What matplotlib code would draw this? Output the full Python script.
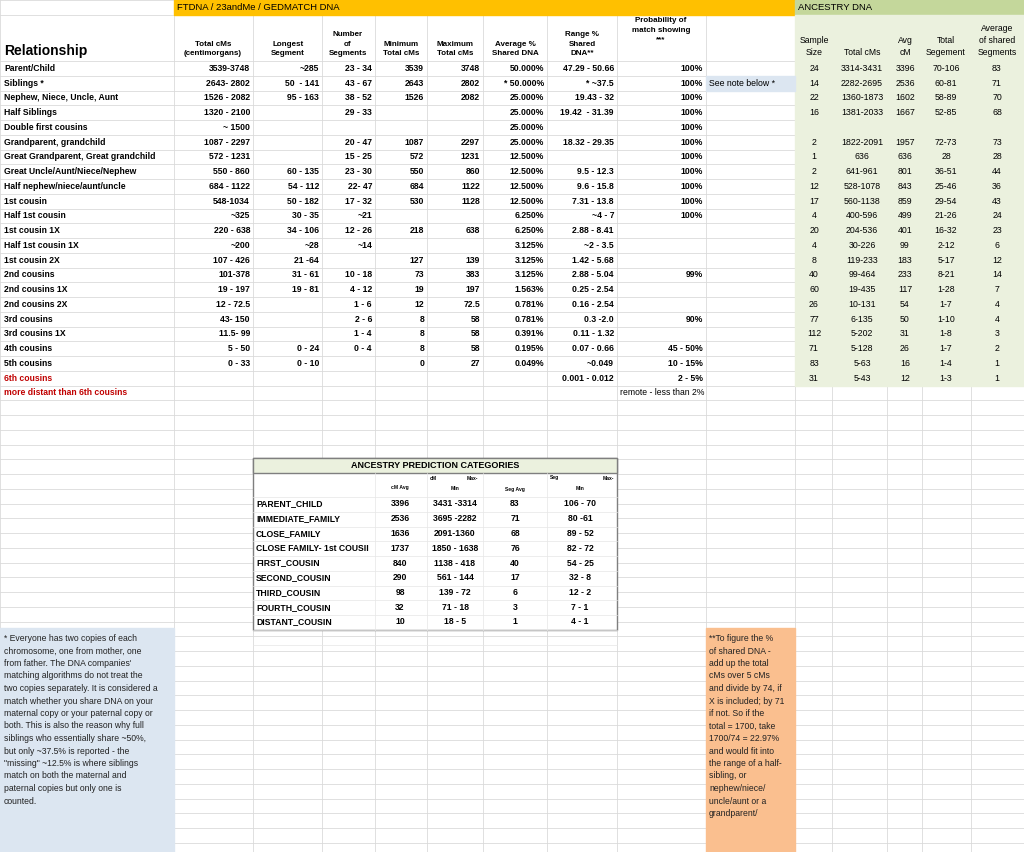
import matplotlib
matplotlib.use("Agg")
import matplotlib.pyplot as plt
from matplotlib.patches import Rectangle

plt.rcParams['font.family'] = ['Liberation Sans', 'DejaVu Sans']

# ---- main table data ----
relationship = ["Parent/Child", "Siblings *", "Nephew, Niece, Uncle, Aunt", "Half Siblings",
                "Double first cousins", "Grandparent, grandchild", "Great Grandparent, Great grandchild",
                "Great Uncle/Aunt/Niece/Nephew", "Half nephew/niece/aunt/uncle", "1st cousin",
                "Half 1st cousin", "1st cousin 1X", "Half 1st cousin 1X", "1st cousin 2X",
                "2nd cousins", "2nd cousins 1X", "2nd cousins 2X", "3rd cousins", "3rd cousins 1X",
                "4th cousins", "5th cousins", "6th cousins", "more distant than 6th cousins"]
total_cms = ["3539-3748", "2643- 2802", "1526 - 2082", "1320 - 2100", "~ 1500", "1087 - 2297",
             "572 - 1231", "550 - 860", "684 - 1122", "548-1034", "~325", "220 - 638", "~200",
             "107 - 426", "101-378", "19 - 197", "12 - 72.5", "43- 150", "11.5- 99", "5 - 50",
             "0 - 33", "", ""]
longest_seg = ["~285", "50  - 141", "95 - 163", "", "", "", "", "60 - 135", "54 - 112", "50 - 182",
               "30 - 35", "34 - 106", "~28", "21 -64", "31 - 61", "19 - 81", "", "", "", "0 - 24",
               "0 - 10", "", ""]
num_segs = ["23 - 34", "43 - 67", "38 - 52", "29 - 33", "", "20 - 47", "15 - 25", "23 - 30", "22- 47",
            "17 - 32", "~21", "12 - 26", "~14", "", "10 - 18", "4 - 12", "1 - 6", "2 - 6", "1 - 4",
            "0 - 4", "", "", ""]
min_cms = ["3539", "2643", "1526", "", "", "1087", "572", "550", "684", "530", "", "218", "", "127",
           "73", "19", "12", "8", "8", "8", "0", "", ""]
max_cms = ["3748", "2802", "2082", "", "", "2297", "1231", "860", "1122", "1128", "", "638", "", "139",
           "383", "197", "72.5", "58", "58", "58", "27", "", ""]
avg_pct = ["50.000%", "* 50.000%", "25.000%", "25.000%", "25.000%", "25.000%", "12.500%", "12.500%",
           "12.500%", "12.500%", "6.250%", "6.250%", "3.125%", "3.125%", "3.125%", "1.563%", "0.781%",
           "0.781%", "0.391%", "0.195%", "0.049%", "", ""]
range_pct = ["47.29 - 50.66", "* ~37.5", "19.43 - 32", "19.42  - 31.39", "", "18.32 - 29.35", "",
             "9.5 - 12.3", "9.6 - 15.8", "7.31 - 13.8", "~4 - 7", "2.88 - 8.41", "~2 - 3.5",
             "1.42 - 5.68", "2.88 - 5.04", "0.25 - 2.54", "0.16 - 2.54", "0.3 -2.0", "0.11 - 1.32",
             "0.07 - 0.66", "~0.049", "0.001 - 0.012", ""]
prob_match = ["100%"] * 11 + ["", "", "", "99%", "", "", "90%", "", "45 - 50%", "10 - 15%", "2 - 5%", ""]

# ---- ancestry DNA data ----
sample_size = ["24", "14", "22", "16", "", "2", "1", "2", "12", "17", "4", "20", "4", "8", "40", "60",
               "26", "77", "112", "71", "83", "31", ""]
anc_total = ["3314-3431", "2282-2695", "1360-1873", "1381-2033", "", "1822-2091", "636", "641-961",
             "528-1078", "560-1138", "400-596", "204-536", "30-226", "119-233", "99-464", "19-435",
             "10-131", "6-135", "5-202", "5-128", "5-63", "5-43", ""]
anc_avg = ["3396", "2536", "1602", "1667", "", "1957", "636", "801", "843", "859", "499", "401", "99",
           "183", "233", "117", "54", "50", "31", "26", "16", "12", ""]
anc_seg = ["70-106", "60-81", "58-89", "52-85", "", "72-73", "28", "36-51", "25-46", "29-54", "21-26",
           "16-32", "2-12", "5-17", "8-21", "1-28", "1-7", "1-10", "1-8", "1-7", "1-4", "1-3", ""]
anc_shared = ["83", "71", "70", "68", "", "73", "28", "44", "36", "43", "24", "23", "6", "12", "14",
              "7", "4", "4", "3", "2", "1", "1", ""]

# ---- prediction categories ----
pred_cat = ["PARENT_CHILD", "IMMEDIATE_FAMILY", "CLOSE_FAMILY", "CLOSE FAMILY- 1st COUSII",
            "FIRST_COUSIN", "SECOND_COUSIN", "THIRD_COUSIN", "FOURTH_COUSIN", "DISTANT_COUSIN"]
pred_cm_avg = ["3396", "2536", "1636", "1737", "840", "290", "98", "32", "10"]
pred_cm_range = ["3431 -3314", "3695 -2282", "2091-1360", "1850 - 1638", "1138 - 418", "561 - 144",
                 "139 - 72", "71 - 18", "18 - 5"]
pred_seg_avg = ["83", "71", "68", "76", "40", "17", "6", "3", "1"]
pred_seg_range = ["106 - 70", "80 -61", "89 - 52", "82 - 72", "54 - 25", "32 - 8", "12 - 2", "7 - 1", "4 - 1"]

note_sib = ("* Everyone has two copies of each\nchromosome, one from mother, one\nfrom father. The DNA companies'\n"
            "matching algorithms do not treat the\ntwo copies separately. It is considered a\n"
            "match whether you share DNA on your\nmaternal copy or your paternal copy or\n"
            "both. This is also the reason why full\nsiblings who essentially share ~50%,\n"
            "but only ~37.5% is reported - the\n\"missing\" ~12.5% is where siblings\n"
            "match on both the maternal and\npaternal copies but only one is\ncounted.")
note_pct = ("**To figure the %\nof shared DNA -\nadd up the total\ncMs over 5 cMs\nand divide by 74, if\n"
            "X is included; by 71\nif not. So if the\ntotal = 1700, take\n1700/74 = 22.97%\n"
            "and would fit into\nthe range of a half-\nsibling, or\nnephew/niece/\nuncle/aunt or a\ngrandparent/")

fig = plt.figure(figsize=(10.24, 8.52), dpi=100)
ax = fig.add_axes([0, 0, 1, 1])
ax.set_xlim(0, 1024)
ax.set_ylim(852, 0)
ax.axis('off')

grid = '#dadada'
col_edges = [0, 174, 253, 322, 375, 427, 483, 547, 617, 706, 795, 832, 887, 922, 971, 1024]
row0, rh = 61, 14.75
row_edges = [0, 15, row0] + [row0 + rh * (i + 1) for i in range(56)]

# background fills
ax.add_patch(Rectangle((174, 0), 621, 15, color='#FFC000', zorder=1))
ax.add_patch(Rectangle((795, 0), 229, 15, color='#C4D79B', zorder=1))
ax.add_patch(Rectangle((795, 15), 229, row0 + rh * 22 - 15, color='#EBF1DE', zorder=1))
ax.add_patch(Rectangle((706, 76), 89, rh, color='#DCE6F1', zorder=1))
ax.add_patch(Rectangle((0, 628), 174, 224, color='#DCE6F1', zorder=1))
ax.add_patch(Rectangle((706, 628), 89, 224, color='#FABF8F', zorder=1))

# sheet grid
for x in col_edges:
    ax.plot([x, x], [0, 852], color=grid, lw=0.6, zorder=0.5)
for y in row_edges:
    if y < 852:
        ax.plot([0, 1024], [y, y], color=grid, lw=0.6, zorder=0.5)

fs = 6.2
ax.text(177, 7.5, "FTDNA / 23andMe / GEDMATCH DNA", fontsize=6.8, va='center', zorder=3)
ax.text(798, 7.5, "ANCESTRY DNA", fontsize=6.8, va='center', zorder=3)
ax.text(4, 51, "Relationship", fontsize=10, fontweight='bold', va='center')

hdrs = [(213, "Total cMs\n(centimorgans)"), (288, "Longest\nSegment"), (348, "Number\nof\nSegments"),
        (401, "Minimum\nTotal cMs"), (455, "Maximum\nTotal cMs"), (515, "Average %\nShared DNA"),
        (582, "Range %\nShared\nDNA**"), (661, "Probability of\nmatch showing\n***")]
for x, t in hdrs:
    ax.text(x, 57 if t.count('\n') < 2 or x != 661 else 43, t, fontsize=5.8, fontweight='bold',
            ha='center', va='bottom', linespacing=1.45)
ahdrs = [(814, "Sample\nSize"), (862, "Total cMs"), (905, "Avg\ncM"), (946, "Total\nSegement"),
         (997, "Average\nof shared\nSegments")]
for x, t in ahdrs:
    ax.text(x, 57, t, fontsize=6.2, ha='center', va='bottom', linespacing=1.45)

right_cols = [(250, total_cms), (319, longest_seg), (372, num_segs), (424, min_cms), (480, max_cms),
              (544, avg_pct), (614, range_pct), (703, prob_match)]
for i, name in enumerate(relationship):
    y = row0 + rh * (i + 0.5)
    ax.text(4, y, name, fontsize=fs, fontweight='bold', va='center',
            color='#C00000' if i >= 21 else 'black')
    for x, vals in right_cols:
        if vals[i]:
            ax.text(x, y, vals[i], fontsize=fs, fontweight='bold', va='center', ha='right')
    for x, vals in [(814, sample_size), (862, anc_total), (905, anc_avg), (946, anc_seg), (997, anc_shared)]:
        if vals[i]:
            ax.text(x, y, vals[i], fontsize=6.3, va='center', ha='center')
ax.text(709, row0 + rh * 1.5, "See note below *", fontsize=6.3, va='center')
ax.text(620, row0 + rh * 22.5, "remote - less than 2%", fontsize=fs, va='center')

# prediction categories table
tx0, tx1, ty0 = 253, 617, 458
ax.add_patch(Rectangle((tx0, ty0), tx1 - tx0, 172, facecolor='white', edgecolor='#7f7f7f', lw=1, zorder=2))
ax.add_patch(Rectangle((tx0, ty0), tx1 - tx0, 15, facecolor='#EBF1DE', edgecolor='#7f7f7f', lw=1, zorder=2))
ax.text((tx0 + tx1) / 2, ty0 + 7.5, "ANCESTRY PREDICTION CATEGORIES", fontsize=6.5, fontweight='bold',
        ha='center', va='center', zorder=3)
for x in [375, 427, 483, 547]:
    ax.plot([x, x], [ty0 + 15, 630], color='#e6e6e6', lw=0.5, zorder=2.5)
ph = 14.75
for k in range(11):
    ax.plot([tx0, tx1], [497 + ph * k, 497 + ph * k], color='#e6e6e6', lw=0.5, zorder=2.5)
ax.text(400, 488, "cM Avg", fontsize=3.6, fontweight='bold', ha='center', va='center', zorder=3)
ax.text(430, 478, "cM", fontsize=3.6, fontweight='bold', va='center', zorder=3)
ax.text(472, 478, "Max-", fontsize=3.6, fontweight='bold', ha='center', va='center', zorder=3)
ax.text(455, 488, "Min", fontsize=3.6, fontweight='bold', ha='center', va='center', zorder=3)
ax.text(515, 489, "Seg Avg", fontsize=3.6, fontweight='bold', ha='center', va='center', zorder=3)
ax.text(550, 478, "Seg", fontsize=3.6, fontweight='bold', va='center', zorder=3)
ax.text(608, 478, "Max-", fontsize=3.6, fontweight='bold', ha='center', va='center', zorder=3)
ax.text(580, 488, "Min", fontsize=3.6, fontweight='bold', ha='center', va='center', zorder=3)
for i, name in enumerate(pred_cat):
    y = 504 + ph * i
    ax.text(256, y, name, fontsize=fs, fontweight='bold', va='center', zorder=3)
    for x, vals in [(400, pred_cm_avg), (455, pred_cm_range), (515, pred_seg_avg), (580, pred_seg_range)]:
        ax.text(x, y, vals[i], fontsize=fs, fontweight='bold', ha='center', va='center', zorder=3)

ax.text(4, 634, note_sib, fontsize=6.2, va='top', linespacing=1.5, zorder=3, color='#222222')
ax.text(709, 634, note_pct, fontsize=6.2, va='top', linespacing=1.5, zorder=3, color='#222222')

fig.savefig("out.png", dpi=100)
